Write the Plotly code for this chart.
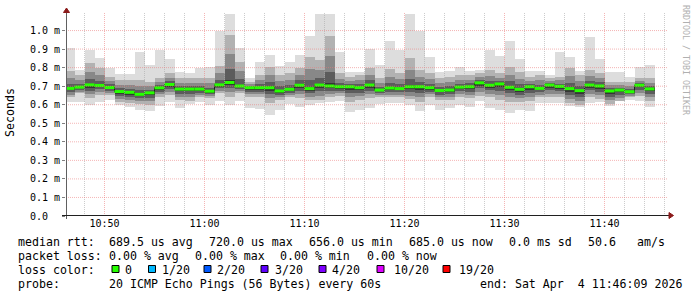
import plotly.graph_objects as go
import pandas as pd

# ---------------- data (ms), one value per 1-minute step, steps start at 10:46 ----------------
step_start = "2026-04-04 10:46:00"
n_steps = 59

median = [0.688, 0.695, 0.707, 0.704, 0.693, 0.671, 0.667, 0.656, 0.664, 0.691,
          0.709, 0.684, 0.684, 0.684, 0.673, 0.707, 0.720, 0.701, 0.692, 0.692,
          0.692, 0.674, 0.683, 0.705, 0.687, 0.706, 0.701, 0.697, 0.697, 0.692,
          0.706, 0.679, 0.690, 0.687, 0.697, 0.697, 0.692, 0.677, 0.679, 0.695,
          0.697, 0.718, 0.705, 0.712, 0.694, 0.683, 0.697, 0.688, 0.706, 0.699,
          0.687, 0.676, 0.706, 0.701, 0.674, 0.679, 0.670, 0.705, 0.685]

ping_max = [0.904, 0.785, 0.895, 0.850, 0.800, 0.764, 0.764, 0.885, 0.813, 0.895,
            0.845, 0.776, 0.771, 0.798, 0.804, 1.000, 1.087, 0.906, 0.743, 0.828,
            0.869, 0.810, 0.828, 0.869, 0.969, 1.087, 1.087, 0.882, 0.774, 0.779,
            0.902, 0.815, 0.946, 0.893, 1.087, 0.996, 0.860, 0.774, 0.784, 0.806,
            0.784, 0.788, 0.893, 0.864, 0.946, 0.846, 0.784, 0.784, 0.761, 0.882,
            0.857, 0.784, 0.964, 0.846, 0.774, 0.774, 0.752, 0.806, 0.815]

ping_hi = [0.782, 0.761, 0.824, 0.797, 0.752, 0.734, 0.734, 0.734, 0.725, 0.743,
           0.770, 0.743, 0.743, 0.743, 0.743, 0.810, 0.978, 0.833, 0.725, 0.761,
           0.806, 0.761, 0.770, 0.797, 0.860, 0.842, 0.973, 0.770, 0.752, 0.761,
           0.797, 0.743, 0.792, 0.770, 0.851, 0.788, 0.770, 0.743, 0.752, 0.761,
           0.761, 0.770, 0.788, 0.770, 0.806, 0.779, 0.752, 0.761, 0.743, 0.752,
           0.797, 0.761, 0.788, 0.770, 0.725, 0.725, 0.725, 0.743, 0.743]

ping_lo = [0.640, 0.661, 0.634, 0.652, 0.652, 0.616, 0.607, 0.603, 0.598, 0.640,
           0.652, 0.625, 0.621, 0.640, 0.634, 0.661, 0.643, 0.661, 0.640, 0.640,
           0.610, 0.625, 0.640, 0.634, 0.625, 0.625, 0.640, 0.646, 0.616, 0.625,
           0.634, 0.643, 0.640, 0.640, 0.629, 0.616, 0.640, 0.625, 0.625, 0.640,
           0.634, 0.646, 0.640, 0.625, 0.616, 0.616, 0.621, 0.640, 0.640, 0.640,
           0.607, 0.598, 0.640, 0.629, 0.603, 0.621, 0.640, 0.646, 0.621]

ping_min = [0.616, 0.613, 0.600, 0.613, 0.627, 0.598, 0.589, 0.571, 0.564, 0.595,
            0.613, 0.585, 0.604, 0.613, 0.600, 0.618, 0.600, 0.621, 0.585, 0.578,
            0.543, 0.574, 0.603, 0.589, 0.598, 0.607, 0.616, 0.621, 0.561, 0.574,
            0.583, 0.603, 0.607, 0.607, 0.598, 0.567, 0.598, 0.574, 0.583, 0.598,
            0.589, 0.621, 0.585, 0.574, 0.558, 0.574, 0.567, 0.607, 0.610, 0.610,
            0.592, 0.589, 0.610, 0.616, 0.592, 0.621, 0.625, 0.621, 0.589]

y_tick_vals = [0.0, 0.1, 0.2, 0.3, 0.4, 0.5, 0.6, 0.7, 0.8, 0.9, 1.0]
y_tick_text = ["0.0  ", "0.1 m", "0.2 m", "0.3 m", "0.4 m", "0.5 m",
               "0.6 m", "0.7 m", "0.8 m", "0.9 m", "1.0 m"]
x_tick_labels = ["10:50", "11:00", "11:10", "11:20", "11:30", "11:40"]

legend_rtt = [("median rtt:", 16), ("689.5 us avg", 107), ("720.0 us max", 207),
              ("656.0 us min", 307), ("685.0 us now", 407), ("0.0 ms sd", 507),
              ("50.6", 586), ("am/s", 635)]
legend_loss = [("packet loss:", 16), ("0.00 % avg", 107), ("0.00 % max", 193),
               ("0.00 % min", 278), ("0.00 % now", 365)]
loss_labels = ["0", "1/20", "2/20", "3/20", "4/20", "10/20", "19/20"]
loss_colors = ["#26ff00", "#00b8ff", "#0059ff", "#5e00ff", "#7e00ff", "#dd00ff", "#ff0000"]
loss_box_x = [112, 148.5, 204, 261, 319, 377, 443]
loss_text_x = [123, 160, 215, 273, 330, 392, 457]

# ---------------- helpers ----------------
def nb(s):
    return s.replace(" ", "\u00a0")

L, R, T, B = 66, 31, 12, 81
W, H = 697, 297
PW, PH = W - L - R, H - T - B

def px(x):
    return (x - L) / PW

def py(y):
    return (H - B - y) / PH

starts = pd.date_range(step_start, periods=n_steps, freq="1min")
centers = starts + pd.Timedelta(seconds=30)
ends = starts + pd.Timedelta(minutes=1)
width_ms = 60000

fig = go.Figure()

def band(lo_vals, hi_vals, color):
    fig.add_trace(go.Bar(
        x=centers, y=[h - l for l, h in zip(lo_vals, hi_vals)], base=lo_vals,
        width=width_ms, marker=dict(color=color, line=dict(width=0)),
        hoverinfo="skip", showlegend=False))

# smoke layers (light outside -> dark inside)
band(ping_min, ping_max, "#dddddd")
band(ping_lo, ping_hi, "#b2b2b2")
l3 = [m - (m - l) * 0.70 for m, l in zip(median, ping_lo)]
h3 = [m + (h - m) * 0.60 for m, h in zip(median, ping_hi)]
band(l3, h3, "#888888")
l4 = [m - (m - l) * 0.42 for m, l in zip(median, ping_lo)]
h4 = [m + (h - m) * 0.28 for m, h in zip(median, ping_hi)]
band(l4, h4, "#5c5c5c")
l5 = [m - (m - l) * 0.20 for m, l in zip(median, ping_lo)]
h5 = [m + (h - m) * 0.06 for m, h in zip(median, ping_hi)]
band(l5, h5, "#353535")

# black median step line
fig.add_trace(go.Scatter(
    x=list(starts) + [ends[-1]], y=median + [median[-1]], mode="lines",
    line=dict(color="#202020", width=1, shape="hv"),
    hoverinfo="skip", showlegend=False))

# green (loss colour) median segments
gx, gy = [], []
for s, e, m in zip(starts, ends, median):
    gx += [s, e, None]
    gy += [m, m, None]
fig.add_trace(go.Scatter(
    x=gx, y=gy, mode="lines", line=dict(color="#26ff00", width=3),
    hoverinfo="skip", showlegend=False, connectgaps=False))

MAJOR = "rgba(235,120,120,0.55)"
MINOR = "rgba(170,170,170,0.6)"
shapes = []
# grid (drawn above smoke)
grid_times = pd.date_range("2026-04-04 10:48:00", "2026-04-04 11:46:00", freq="2min")
for t in grid_times:
    major = (t.minute % 10 == 0)
    shapes.append(dict(type="line", xref="x", yref="paper", x0=t, x1=t, y0=0, y1=1,
                       line=dict(color=MAJOR if major else MINOR, width=1, dash="1px,1px"),
                       layer="above"))
for v in y_tick_vals[1:]:
    shapes.append(dict(type="line", xref="paper", yref="y", x0=0, x1=px(668), y0=v, y1=v,
                       line=dict(color=MAJOR, width=1, dash="1px,1px"), layer="above"))
# axes
shapes.append(dict(type="line", xref="paper", yref="paper", x0=px(66.5), x1=px(66.5),
                   y0=py(219), y1=py(10), line=dict(color="#606060", width=1), layer="above"))
shapes.append(dict(type="line", xref="paper", yref="paper", x0=px(62), x1=px(670),
                   y0=py(215.5), y1=py(215.5), line=dict(color="#202020", width=1), layer="above"))
shapes.append(dict(type="path", xref="paper", yref="paper",
                   path=f"M {px(63.5)},{py(12.5)} L {px(66.5)},{py(8)} L {px(69.5)},{py(12.5)} Z",
                   fillcolor="#8b1a1a", line=dict(color="#8b1a1a", width=1), layer="above"))
shapes.append(dict(type="path", xref="paper", yref="paper",
                   path=f"M {px(669)},{py(212.5)} L {px(673.5)},{py(215.5)} L {px(669)},{py(218.5)} Z",
                   fillcolor="#8b1a1a", line=dict(color="#8b1a1a", width=1), layer="above"))
# loss colour boxes
for bx, c in zip(loss_box_x, loss_colors):
    shapes.append(dict(type="rect", xref="paper", yref="paper",
                       x0=px(bx), x1=px(bx + 7), y0=py(272.5), y1=py(265.5),
                       fillcolor=c, line=dict(color="#000000", width=1)))

MONO = "DejaVu Sans Mono"
annotations = []

def txt(s, x, y, size=11.6, anchor="left", color="#000000", angle=0):
    annotations.append(dict(text=nb(s), x=px(x), y=py(y), xref="paper", yref="paper",
                            xanchor=anchor, yanchor="middle", showarrow=False,
                            textangle=angle, font=dict(family=MONO, size=size, color=color)))

for s, x in legend_rtt:
    txt(s, x, 241.5)
for s, x in legend_loss:
    txt(s, x, 255.5)
txt("loss color:", 16, 269.5)
for s, x in zip(loss_labels, loss_text_x):
    txt(s, x, 269.5)
txt("probe:", 16, 283.5)
txt("20 ICMP Echo Pings (56 Bytes) every 60s", 107, 283.5)
txt("end: Sat Apr  4 11:46:09 2026", 478, 283.5)

annotations.append(dict(text="Seconds", x=px(10), y=py(113), xref="paper", yref="paper",
                        xanchor="center", yanchor="middle", showarrow=False, textangle=-90,
                        font=dict(family=MONO, size=11.6, color="#000000")))
annotations.append(dict(text=nb("RRDTOOL / TOBI OETIKER"), x=px(686), y=py(60), xref="paper",
                        yref="paper", xanchor="center", yanchor="middle", showarrow=False,
                        textangle=90, font=dict(family=MONO, size=8.3, color="#b0b0b0")))

x_tick_vals = [pd.Timestamp("2026-04-04 " + t) for t in x_tick_labels]

fig.update_layout(
    width=W, height=H, margin=dict(l=L, r=R, t=T, b=B),
    paper_bgcolor="#ffffff", plot_bgcolor="#ffffff",
    barmode="overlay", bargap=0, showlegend=False,
    shapes=shapes, annotations=annotations,
    xaxis=dict(type="date", range=["2026-04-04 10:46:09", "2026-04-04 11:46:09"],
               tickvals=x_tick_vals, ticktext=x_tick_labels,
               showgrid=False, zeroline=False, showline=False, ticks="",
               tickfont=dict(family=MONO, size=10, color="#000000"), fixedrange=True),
    yaxis=dict(range=[0, 1.1], tickvals=y_tick_vals, ticktext=[nb(t) for t in y_tick_text],
               showgrid=False, zeroline=False, showline=False, ticks="outside", ticklen=3,
               tickcolor="#808080", tickfont=dict(family=MONO, size=10, color="#000000"),
               fixedrange=True),
)

fig.write_html("out.html")
